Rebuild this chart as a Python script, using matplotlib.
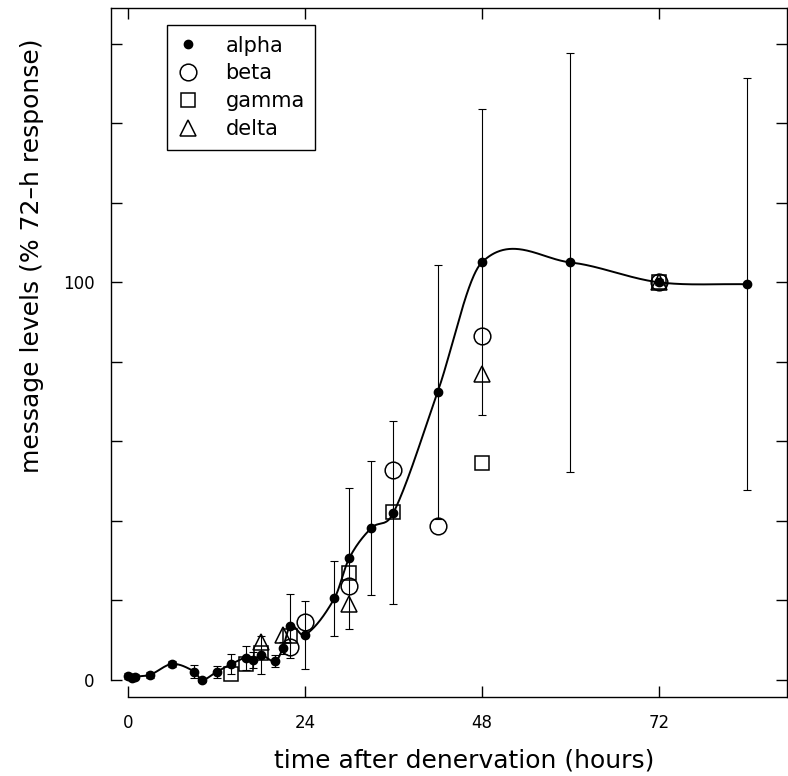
import numpy as np
import matplotlib
matplotlib.use("Agg")
import matplotlib.pyplot as plt

# alpha series (filled dots) with SEM bars, fitted by a smooth curve
alpha_t = [0, 0.5, 1, 3, 6, 9, 10, 12, 14, 16, 17, 18, 20, 21, 22, 24, 28, 30, 33, 36, 42, 48, 60, 72, 84]
alpha_y = [1.0, 0.5, 0.8, 1.3, 4.0, 2.1, 0.0, 2.0, 4.0, 5.6, 5.0, 6.3, 4.7, 8.0, 13.6, 11.3, 20.5, 30.6, 38.2, 42.0, 72.4, 105.0, 105.0, 100.0, 99.5]
alpha_err = [0.8, 0.6, 0.6, 0.8, 0.8, 1.6, 0.5, 1.6, 2.4, 3.0, 2.0, 4.7, 1.5, 1.5, 8.0, 8.5, 9.4, 17.7, 16.8, 23.0, 32.0, 38.5, 52.7, 0.8, 51.8]

beta_t = [22, 24, 30, 36, 42, 48, 72]
beta_y = [8.4, 14.5, 23.5, 52.7, 38.6, 86.5, 100.0]

gamma_t = [14, 16, 18, 22, 30, 36, 48, 72]
gamma_y = [1.5, 4.0, 6.7, 11.0, 27.0, 42.3, 54.6, 100.0]

delta_t = [18, 21, 30, 48, 72]
delta_y = [9.5, 11.3, 19.0, 77.0, 100.0]

xticks = [0, 24, 48, 72]
yticks = [0, 20, 40, 60, 80, 100, 120, 140, 160]
ylabels = ["0", "", "", "", "", "100", "", "", ""]


def smooth_curve(x, y, xs):
    # piecewise cubic Hermite with Catmull-Rom style slopes
    x = np.asarray(x, float)
    y = np.asarray(y, float)
    n = len(x)
    m = np.zeros(n)
    m[1:-1] = (y[2:] - y[:-2]) / (x[2:] - x[:-2])
    m[0] = (y[1] - y[0]) / (x[1] - x[0])
    m[-1] = (y[-1] - y[-2]) / (x[-1] - x[-2])
    idx = np.clip(np.searchsorted(x, xs) - 1, 0, n - 2)
    h = x[idx + 1] - x[idx]
    t = (xs - x[idx]) / h
    h00 = 2 * t**3 - 3 * t**2 + 1
    h10 = t**3 - 2 * t**2 + t
    h01 = -2 * t**3 + 3 * t**2
    h11 = t**3 - t**2
    return h00 * y[idx] + h10 * h * m[idx] + h01 * y[idx + 1] + h11 * h * m[idx + 1]


fig = plt.figure(figsize=(7.88, 7.76), dpi=100)
ax = fig.add_axes([0.141, 0.1018, 0.8577, 0.888])

xs = np.linspace(alpha_t[0], alpha_t[-1], 1000)
ax.plot(xs, smooth_curve(alpha_t, alpha_y, xs), color="black", lw=1.4, zorder=3)

ax.errorbar(alpha_t, alpha_y, yerr=alpha_err, fmt="none", ecolor="black",
            elinewidth=0.8, capsize=2.8, capthick=0.8, zorder=2)

ax.plot(alpha_t, alpha_y, "o", color="black", ms=6, label="alpha", zorder=5)
ax.plot(beta_t, beta_y, "o", mfc="none", mec="black", mew=1.1, ms=12, label="beta", zorder=4)
ax.plot(gamma_t, gamma_y, "s", mfc="none", mec="black", mew=1.1, ms=9.5, label="gamma", zorder=4)
ax.plot(delta_t, delta_y, "^", mfc="none", mec="black", mew=1.1, ms=11, label="delta", zorder=4)

ax.set_xlim(-2.3, 89.4)
ax.set_ylim(-4.3, 169)
ax.spines["left"].set_bounds(0, 169)
ax.spines["bottom"].set_bounds(0, 89.4)
for s in ax.spines.values():
    s.set_linewidth(1.0)

ax.set_xticks(xticks)
ax.set_yticks(yticks)
ax.set_yticklabels(ylabels)
ax.tick_params(direction="in", length=8, width=1, top=True, right=True,
               labelsize=12, pad=12)

ax.set_xlabel("time after denervation (hours)", fontsize=18)
ax.set_ylabel("message levels (% 72\u2013h response)", fontsize=18)
ax.xaxis.set_label_coords(0.522, -0.075)
ax.yaxis.set_label_coords(-0.1, 0.64)

leg = ax.legend(loc="upper left", bbox_to_anchor=(0.083, 0.975), fontsize=15,
                frameon=True, fancybox=False, framealpha=1, edgecolor="black",
                borderpad=0.5, labelspacing=0.38, handlelength=1.0,
                handletextpad=1.3, numpoints=1, borderaxespad=0)
leg.get_frame().set_linewidth(1.0)

fig.savefig("out.png", dpi=100)
